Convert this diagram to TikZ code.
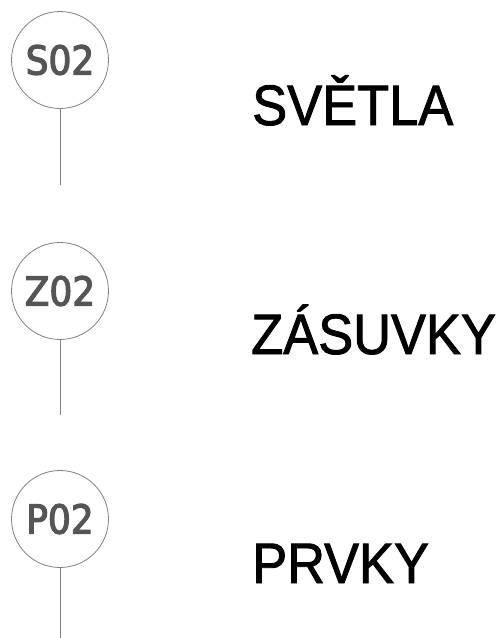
\documentclass[tikz,border=0pt]{standalone}
\usepackage{fontspec}
\setmainfont{Liberation Sans}
\newfontfamily\bigfont[FakeStretch=0.92,FakeBold=1.5]{Liberation Sans}
\newfontfamily\tagfont[FakeBold=3]{DejaVu Sans Condensed}
\definecolor{tagtext}{HTML}{555555}
\definecolor{tagline}{HTML}{808080}
\begin{document}
\begin{tikzpicture}[x=1pt,y=-1pt,
  tagcircle/.style={circle,draw=tagline,line width=0.8pt,minimum size=97pt,inner sep=0pt,
    text=tagtext,font=\tagfont\fontsize{40}{40}\selectfont},
  stem/.style={draw=tagline,line width=0.9pt},
  biglabel/.style={anchor=base west,inner sep=0pt,font=\bigfont\fontsize{57}{57}\selectfont}]
\useasboundingbox (0,0) rectangle (501,638);
\node[tagcircle] (s) at (60,60) {S02};
\coordinate (se) at (60,185);
\draw[stem] (s.south) -- (se);
\node[biglabel] (sl) at (252,125) {SVĚTLA};
\node[tagcircle] (z) at (60,291) {Z02};
\coordinate (ze) at (60,415);
\draw[stem] (z.south) -- (ze);
\node[biglabel] (zl) at (251,354) {ZÁSUVKY};
\node[tagcircle] (p) at (60,519) {P02};
\coordinate (pe) at (60,638);
\draw[stem] (p.south) -- (pe);
\node[biglabel] (pl) at (252,583) {PRVKY};
\end{tikzpicture}
\end{document}
